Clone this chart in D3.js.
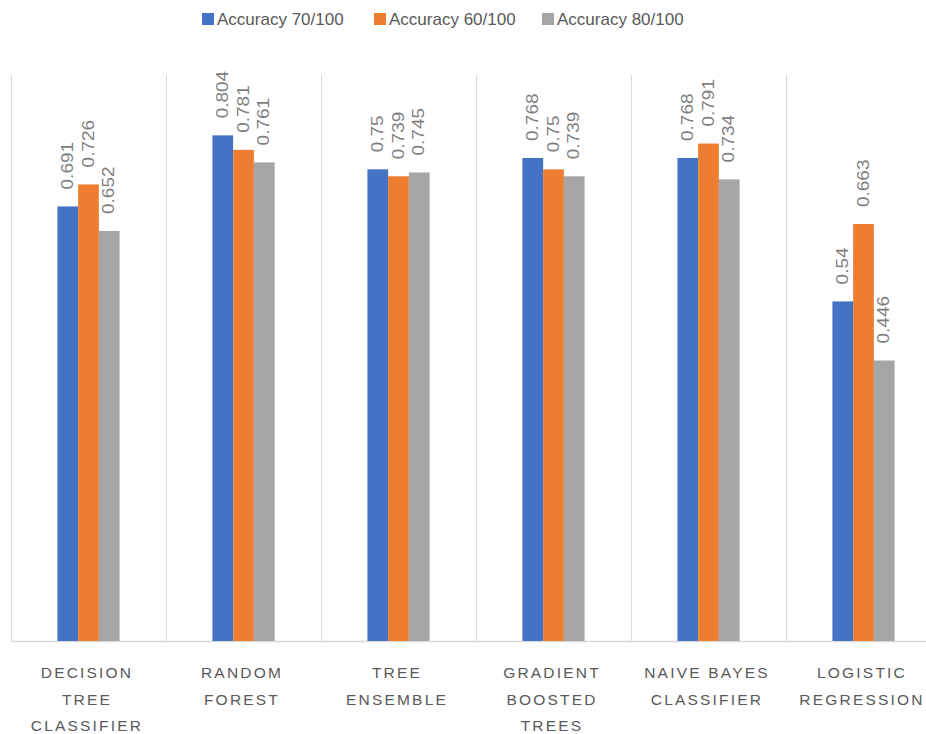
<!DOCTYPE html>
<html><head><meta charset="utf-8">
<script src="https://cdn.jsdelivr.net/npm/d3@7"></script>
<style>body{margin:0;background:#fff;}svg{display:block;font-family:"Liberation Sans",Arial,sans-serif;}</style>
</head><body><svg id="c" width="926" height="734"></svg>
<script>
const categories = ["DECISION TREE CLASSIFIER","RANDOM FOREST","TREE ENSEMBLE","GRADIENT BOOSTED TREES","NAIVE BAYES CLASSIFIER","LOGISTIC REGRESSION"];
const categoryLines = [["DECISION","TREE","CLASSIFIER"],["RANDOM","FOREST"],["TREE","ENSEMBLE"],["GRADIENT","BOOSTED","TREES"],["NAIVE BAYES","CLASSIFIER"],["LOGISTIC","REGRESSION"]];
const seriesNames = ["Accuracy 70/100","Accuracy 60/100","Accuracy 80/100"];
const acc70 = [0.691,0.804,0.75,0.768,0.768,0.54];
const acc60 = [0.726,0.781,0.739,0.75,0.791,0.663];
const acc80 = [0.652,0.761,0.745,0.739,0.734,0.446];
const seriesValues = [acc70, acc60, acc80];
const colors = ["#4472C4","#ED7D31","#A5A5A5"];

const svg = d3.select("#c");
const pLeft = 11, pRight = 941, pTop = 75, pBottom = 641;
const x0 = d3.scaleBand().domain(categories).range([pLeft,pRight]).paddingInner(0).paddingOuter(0);
const x1 = d3.scaleBand().domain(seriesNames).range([0,x0.bandwidth()]).paddingInner(0).paddingOuter(2.24);
const y = d3.scaleLinear().domain([0,0.9]).range([pBottom,pTop]);

// gridlines (category separators)
const gl = svg.append("g");
categories.concat(["__end"]).forEach((c,i)=>{
  const xx = i < categories.length ? x0(c) : pRight;
  gl.append("line").attr("x1",xx+0.5).attr("x2",xx+0.5).attr("y1",pTop).attr("y2",pBottom).attr("stroke","#d9d9d9").attr("stroke-width",1);
});
gl.append("line").attr("x1",pLeft).attr("x2",pRight).attr("y1",pBottom+0.5).attr("y2",pBottom+0.5).attr("stroke","#d9d9d9").attr("stroke-width",1.5);

// bars
const data = [];
categories.forEach((c,ci)=>seriesNames.forEach((s,si)=>data.push({c,s,si,v:seriesValues[si][ci]})));
svg.append("g").selectAll("rect").data(data).join("rect")
  .attr("x",d=>x0(d.c)+x1(d.s)).attr("width",x1.bandwidth())
  .attr("y",d=>y(d.v)).attr("height",d=>pBottom-y(d.v))
  .attr("fill",d=>colors[d.si]);

// data labels
svg.append("g").selectAll("text").data(data).join("text")
  .attr("transform",d=>`translate(${x0(d.c)+x1(d.s)+x1.bandwidth()/2+1},${y(d.v)-17}) scale(0.85,1) rotate(-90)`)
  .attr("dominant-baseline","middle").attr("text-anchor","start")
  .attr("font-size",19).attr("fill","#7f7f7f")
  .text(d=>String(d.v));

// category labels
const cl = svg.append("g");
categories.forEach((c,ci)=>{
  const cx = x0(c)+x0.bandwidth()/2;
  categoryLines[ci].forEach((ln,li)=>{
    cl.append("text").attr("x",cx-1.5).attr("y",678+li*26.5)
      .attr("text-anchor","middle").attr("font-size",15.5).attr("letter-spacing","2.2px")
      .attr("fill","#595959").text(ln);
  });
});

// legend
const legX = [202,374,542];
const lg = svg.append("g");
seriesNames.forEach((s,i)=>{
  lg.append("rect").attr("x",legX[i]).attr("y",13).attr("width",12).attr("height",12).attr("fill",colors[i]);
  lg.append("text").attr("x",legX[i]+15).attr("y",25).attr("font-size",17).attr("fill","#595959").text(s);
});
</script></body></html>
